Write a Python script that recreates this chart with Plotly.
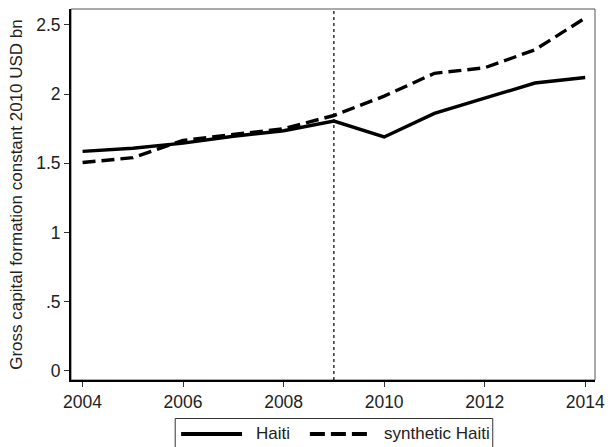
import plotly.graph_objects as go

years = [2004, 2005, 2006, 2007, 2008, 2009, 2010, 2011, 2012, 2013, 2014]
haiti = [1.586, 1.608, 1.645, 1.695, 1.735, 1.805, 1.69, 1.86, 1.97, 2.08, 2.12]
synthetic_haiti = [1.505, 1.54, 1.665, 1.71, 1.75, 1.845, 1.985, 2.15, 2.19, 2.32, 2.55]
series_names = ["Haiti", "synthetic Haiti"]
treatment_year = 2009
y_tick_vals = [0, 0.5, 1, 1.5, 2, 2.5]
y_tick_text = ["0", ".5", "1", "1.5", "2", "2.5"]
x_tick_vals = [2004, 2006, 2008, 2010, 2012, 2014]

FONT = "Liberation Sans, Arial, sans-serif"
TEXT = "#222222"
W, H = 614, 447
L, R, T, B = 71, 10, 9, 67
PW, PH = W - L - R, H - T - B


def px(xp):
    """pixel column -> paper x"""
    return (xp - L) / PW


def py(yp):
    """pixel row -> paper y"""
    return (H - B - yp) / PH


SOLID = dict(color="black", width=3.4)
DASHED = dict(color="black", width=3.4, dash="13px,6px")

fig = go.Figure()
fig.add_trace(go.Scatter(x=years, y=haiti, mode="lines",
                         name=series_names[0], line=SOLID, showlegend=False))
fig.add_trace(go.Scatter(x=years, y=synthetic_haiti, mode="lines",
                         name=series_names[1], line=DASHED, showlegend=False))

# intervention marker
fig.add_vline(x=treatment_year, line=dict(color="black", width=1.2, dash="3px,3px"))

# thin outer frame of the plotting region
fig.add_shape(type="rect", xref="paper", yref="paper", x0=0, y0=0, x1=1, y1=1,
              line=dict(color="#555555", width=1), layer="below")

# legend box below the axis
fig.add_shape(type="rect", xref="paper", yref="paper",
              x0=px(177), x1=px(500), y0=py(455), y1=py(418.5),
              line=dict(color="#333333", width=1), fillcolor="white")
leg_y = py(434)
fig.add_shape(type="line", xref="paper", yref="paper",
              x0=px(183), x1=px(245), y0=leg_y, y1=leg_y,
              line=dict(color="black", width=4))
fig.add_shape(type="line", xref="paper", yref="paper",
              x0=px(314), x1=px(373), y0=leg_y, y1=leg_y,
              line=dict(color="black", width=4, dash="15px,6px"))
for xpix, label in [(257, series_names[0]), (387, series_names[1])]:
    fig.add_annotation(x=px(xpix), y=py(433), xref="paper", yref="paper",
                       text=label, showarrow=False, xanchor="left", yanchor="middle",
                       font=dict(family=FONT, size=17, color=TEXT))

fig.update_layout(
    width=W, height=H,
    margin=dict(l=L, r=R, t=T, b=B),
    paper_bgcolor="white", plot_bgcolor="white",
    font=dict(family=FONT, size=17.5, color=TEXT),
    showlegend=False,
)
fig.update_xaxes(
    range=[2003.77, 2014.195], tickvals=x_tick_vals,
    showgrid=False, zeroline=False,
    showline=True, linecolor="black", linewidth=2,
    ticks="outside", ticklen=5, tickwidth=1, tickcolor="#333333",
    tickfont=dict(size=17.5, color=TEXT),
)
fig.update_yaxes(
    range=[-0.067, 2.615], tickvals=y_tick_vals, ticktext=y_tick_text,
    showgrid=False, zeroline=False,
    showline=True, linecolor="black", linewidth=2,
    ticks="outside", ticklen=5, tickwidth=1, tickcolor="#333333",
    tickfont=dict(size=17.5, color=TEXT),
    title=dict(text="Gross capital formation constant 2010 USD bn",
               font=dict(size=17, color=TEXT), standoff=9),
)

fig.write_html("out.html")
